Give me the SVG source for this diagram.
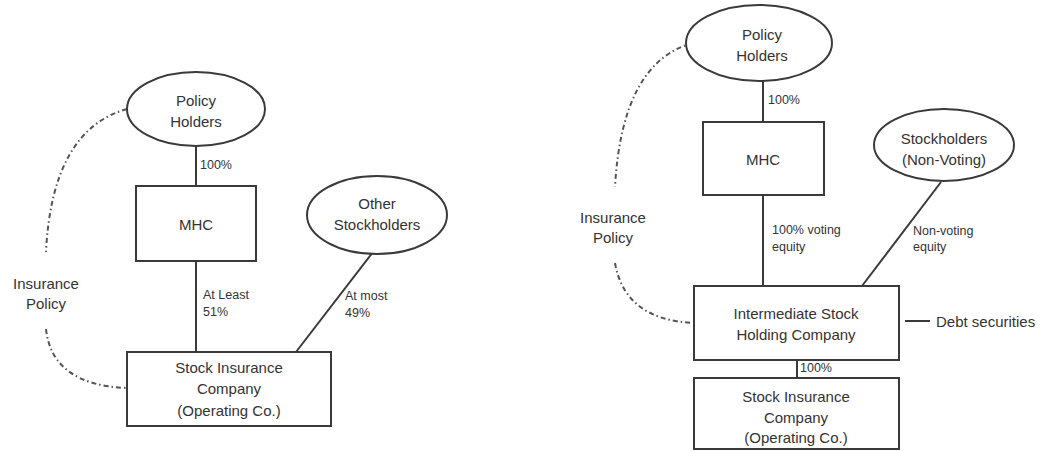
<svg xmlns="http://www.w3.org/2000/svg" width="1047" height="452" viewBox="0 0 1047 452">
<style>
.shape{fill:#fff;stroke:#3a3a3a;stroke-width:2}
.ln{stroke:#3a3a3a;stroke-width:2;fill:none}
.dd{stroke:#555;stroke-width:2;fill:none;stroke-dasharray:5 3 1.5 3}
.t{font-family:"Liberation Sans",Arial,sans-serif;font-size:15px;fill:#333;text-anchor:middle;dominant-baseline:central}
.s{font-family:"Liberation Sans",Arial,sans-serif;font-size:12.5px;fill:#333;dominant-baseline:central}
</style>
<rect width="1047" height="452" fill="#fff"/>
<g id="connectors">
<line class="ln" x1="196" y1="146" x2="196" y2="186"/>
<line class="ln" x1="196" y1="261" x2="196" y2="352"/>
<line class="ln" x1="373" y1="252" x2="296" y2="352"/>
<path class="dd" d="M127,109 Q52,130 46,252"/>
<path class="dd" d="M46,329 Q52,385 127,388"/>
<line class="ln" x1="763" y1="81" x2="763" y2="122"/>
<line class="ln" x1="763" y1="195" x2="763" y2="286"/>
<line class="ln" x1="941" y1="182" x2="862" y2="286"/>
<line class="ln" x1="797" y1="360" x2="797" y2="378"/>
<line class="ln" x1="905" y1="321" x2="930" y2="321"/>
<path class="dd" d="M693,43 Q622,62 615,187"/>
<path class="dd" d="M615,263 Q625,320 694,323"/>
<text class="s" x="200" y="165">100%</text>
<text class="s" x="203" y="295">At Least</text>
<text class="s" x="203" y="312">51%</text>
<text class="s" x="345" y="296">At most</text>
<text class="s" x="345" y="313">49%</text>
<text class="s" x="768" y="100">100%</text>
<text class="s" x="772" y="230">100% voting</text>
<text class="s" x="772" y="247">equity</text>
<text class="s" x="913" y="231">Non-voting</text>
<text class="s" x="913" y="247">equity</text>
<text class="s" x="800" y="368">100%</text>
</g>
<g id="left-policyholders">
<ellipse class="shape" cx="196" cy="109" rx="69" ry="37"/>
<text class="t" x="196" y="100">Policy</text>
<text class="t" x="196" y="121">Holders</text>
</g>
<g id="left-mhc">
<rect class="shape" x="136" y="186" width="120" height="75"/>
<text class="t" x="196" y="224">MHC</text>
</g>
<g id="left-other">
<ellipse class="shape" cx="377" cy="215" rx="70" ry="39"/>
<text class="t" x="377" y="203">Other</text>
<text class="t" x="377" y="224">Stockholders</text>
</g>
<g id="left-stockins">
<rect class="shape" x="127" y="352" width="204" height="74"/>
<text class="t" x="229" y="367">Stock Insurance</text>
<text class="t" x="229" y="388">Company</text>
<text class="t" x="229" y="410">(Operating Co.)</text>
</g>
<g id="left-inspolicy">
<text class="t" x="46" y="283">Insurance</text>
<text class="t" x="46" y="303">Policy</text>
</g>
<g id="right-policyholders">
<ellipse class="shape" cx="759" cy="43" rx="73" ry="38"/>
<text class="t" x="762" y="34">Policy</text>
<text class="t" x="762" y="55">Holders</text>
</g>
<g id="right-mhc">
<rect class="shape" x="703" y="122" width="121" height="73"/>
<text class="t" x="763" y="159">MHC</text>
</g>
<g id="right-nonvoting">
<ellipse class="shape" cx="944" cy="145" rx="70" ry="36"/>
<text class="t" x="944" y="138">Stockholders</text>
<text class="t" x="944" y="159">(Non-Voting)</text>
</g>
<g id="right-ishc">
<rect class="shape" x="694" y="286" width="205" height="74"/>
<text class="t" x="796" y="313">Intermediate Stock</text>
<text class="t" x="796" y="334">Holding Company</text>
</g>
<g id="right-debt">
<text class="t" x="936" y="321" style="text-anchor:start">Debt securities</text>
</g>
<g id="right-stockins">
<rect class="shape" x="694" y="378" width="205" height="71"/>
<text class="t" x="796" y="396">Stock Insurance</text>
<text class="t" x="796" y="417">Company</text>
<text class="t" x="796" y="437">(Operating Co.)</text>
</g>
<g id="right-inspolicy">
<text class="t" x="613" y="217">Insurance</text>
<text class="t" x="613" y="237">Policy</text>
</g>
</svg>
